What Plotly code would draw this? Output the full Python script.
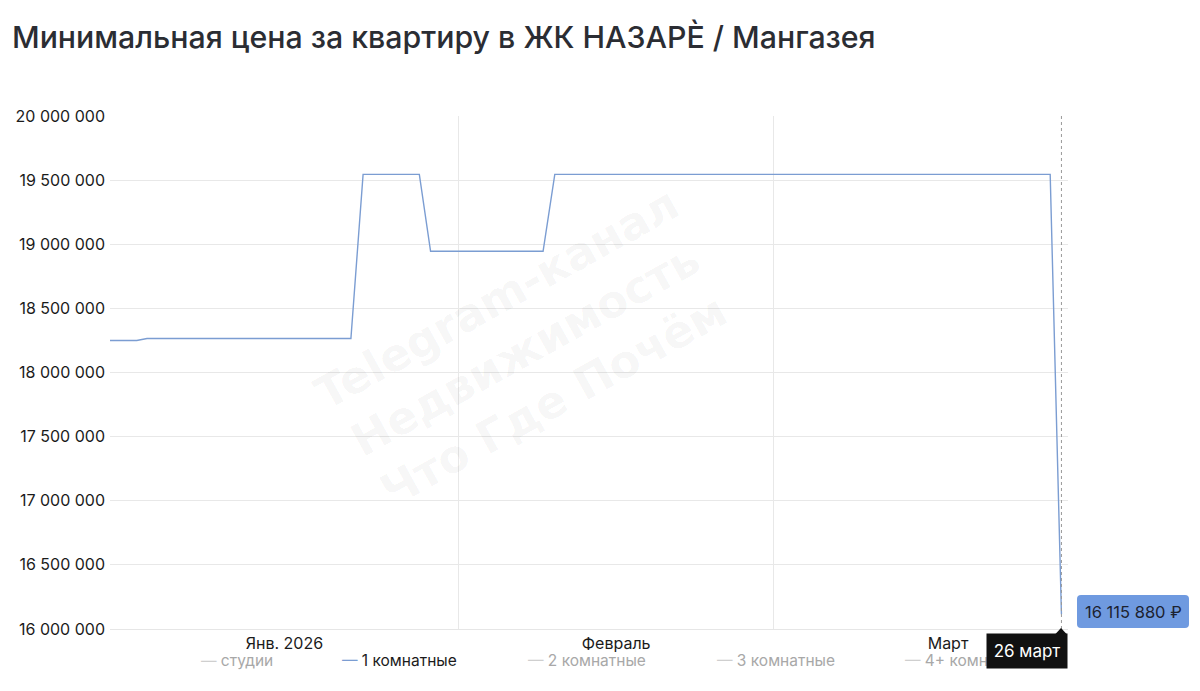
import plotly.graph_objects as go

# ---- data ----
dates = [
    "2025-12-31 12:00", "2026-01-03 09:00", "2026-01-04 07:00",
    "2026-01-22 10:00", "2026-01-23 12:00", "2026-01-28 12:00",
    "2026-01-29 12:00", "2026-02-08 12:00", "2026-02-09 13:00",
    "2026-03-25 14:00", "2026-03-26 14:00",
]
price_1room = [
    18250000, 18250000, 18265000,
    18265000, 19545000, 19545000,
    18945000, 18945000, 19545000,
    19545000, 16115880,
]
series_names = ["студии", "1 комнатные", "2 комнатные", "3 комнатные", "4+ комнатные"]
month_mid = ["2026-01-16 12:00", "2026-02-15 00:00", "2026-03-16 12:00"]
month_labels = ["Янв. 2026", "Февраль", "Март"]
month_starts = ["2026-01-01", "2026-02-01", "2026-03-01"]
y_ticks = [16000000, 16500000, 17000000, 17500000, 18000000, 18500000, 19000000, 19500000, 20000000]
tooltip_date = "26 март"
tooltip_value = "16 115 880 ₽"

W, H = 1200, 691
L, R, T, B = 110, 132, 116, 62
PW, PH = W - L - R, H - T - B


def px(x):
    return (x - L) / PW


def py(y):
    return (H - B - y) / PH


FONT = "Inter, Roboto, Liberation Sans, sans-serif"
LINE_C = "#7b9dd2"

fig = go.Figure()
fig.add_trace(go.Scatter(
    x=dates, y=price_1room, mode="lines",
    line=dict(color=LINE_C, width=1.4), name=series_names[1],
    showlegend=False, hoverinfo="skip",
))

fig.update_layout(
    width=W, height=H,
    margin=dict(l=L, r=R, t=T, b=B),
    paper_bgcolor="white", plot_bgcolor="white",
    separators=", ",
    font=dict(family=FONT, color="#1b1b1b"),
    title=dict(
        text="Минимальная цена за квартиру в ЖК НАЗАРЀ / Мангазея",
        x=12 / W, xanchor="left", xref="container",
        y=1 - 37 / H, yanchor="middle", yref="container",
        font=dict(size=30.3, color="#2b2d33", family=FONT, weight=500),
    ),
    xaxis=dict(
        type="date",
        range=["2026-01-01 00:00", "2026-03-27 04:00"],
        tickmode="array", tickvals=month_mid, ticktext=month_labels,
        ticks="", showgrid=False, zeroline=False,
        showline=True, linecolor="#e6e6e6", linewidth=1,
        tickfont=dict(size=16, color="#1b1b1b"),
        ticklabelstandoff=0,
        minor=dict(tickmode="array", tickvals=month_starts, showgrid=True,
                   gridcolor="#e8e8e8", gridwidth=1, ticks=""),
    ),
    yaxis=dict(
        range=[16000000, 20000000],
        tickmode="array", tickvals=y_ticks,
        tickformat=",d",
        showgrid=True, gridcolor="#e8e8e8", gridwidth=1,
        zeroline=False, ticks="",
        tickfont=dict(size=16, color="#1b1b1b"),
        ticklabelstandoff=4,
    ),
    hovermode=False,
)

annotations = []
# watermark
annotations.append(dict(
    text="Telegram-канал<br>Недвижимость<br>Что Где Почём",
    xref="paper", yref="paper", x=px(525), y=py(350),
    xanchor="center", yanchor="middle", showarrow=False,
    textangle=-29, align="center",
    font=dict(size=45, color="rgba(0,0,0,0.045)", family="DejaVu Sans, sans-serif", weight="bold"),
))

# legend (custom)
legend_x = [199, 340, 526, 715, 903]
for i, name in enumerate(series_names):
    active = (i == 1)
    dash_c = LINE_C if active else "#cfcfcf"
    txt_c = "#1b1b1b" if active else "#a8a8a8"
    annotations.append(dict(
        text=f"<span style='color:{dash_c}'>—</span> {name}",
        xref="paper", yref="paper", x=px(legend_x[i]), y=py(660),
        xanchor="left", yanchor="middle", showarrow=False,
        font=dict(size=15.5, color=txt_c, family=FONT),
    ))


def rrect(x0, y0, x1, y1, r):
    a0, a1 = px(x0), px(x1)
    b0, b1 = py(y0), py(y1)
    rx, ry = r / PW, r / PH
    return (f"M{a0+rx},{b0} L{a1-rx},{b0} Q{a1},{b0} {a1},{b0-ry} "
            f"L{a1},{b1+ry} Q{a1},{b1} {a1-rx},{b1} L{a0+rx},{b1} "
            f"Q{a0},{b1} {a0},{b1+ry} L{a0},{b0-ry} Q{a0},{b0} {a0+rx},{b0} Z")


shapes = [
    dict(type="line", xref="x", yref="paper", x0=dates[-1], x1=dates[-1], y0=0, y1=1,
         line=dict(color="#9a9a9a", width=1, dash="dot")),
    dict(type="path", xref="paper", yref="paper", path=rrect(1077, 595, 1189, 628, 4),
         fillcolor="#6f9ae0", line=dict(width=0), layer="above"),
    dict(type="path", xref="paper", yref="paper",
         path=f"M{px(1055)},{py(634.5)} L{px(1061)},{py(628)} L{px(1067)},{py(634.5)} Z",
         fillcolor="#111111", line=dict(width=0), layer="above"),
]
fig.update_layout(shapes=shapes)

annotations.append(dict(
    text=tooltip_value, xref="paper", yref="paper",
    x=px(1133), y=py(611.5), xanchor="center", yanchor="middle", showarrow=False,
    font=dict(size=16.5, color="#1c2230", family=FONT),
))

# date tooltip (black box drawn above the legend text)
annotations.append(dict(
    text=tooltip_date, xref="paper", yref="paper",
    x=px(1027), y=py(651), xanchor="center", yanchor="middle", showarrow=False,
    width=80, height=34, borderpad=0, bgcolor="#111111",
    font=dict(size=17, color="white", family=FONT),
))

fig.update_layout(annotations=annotations)

fig.write_html("out.html", post_script="document.body.style.margin='0';",
               config={"displayModeBar": False})
